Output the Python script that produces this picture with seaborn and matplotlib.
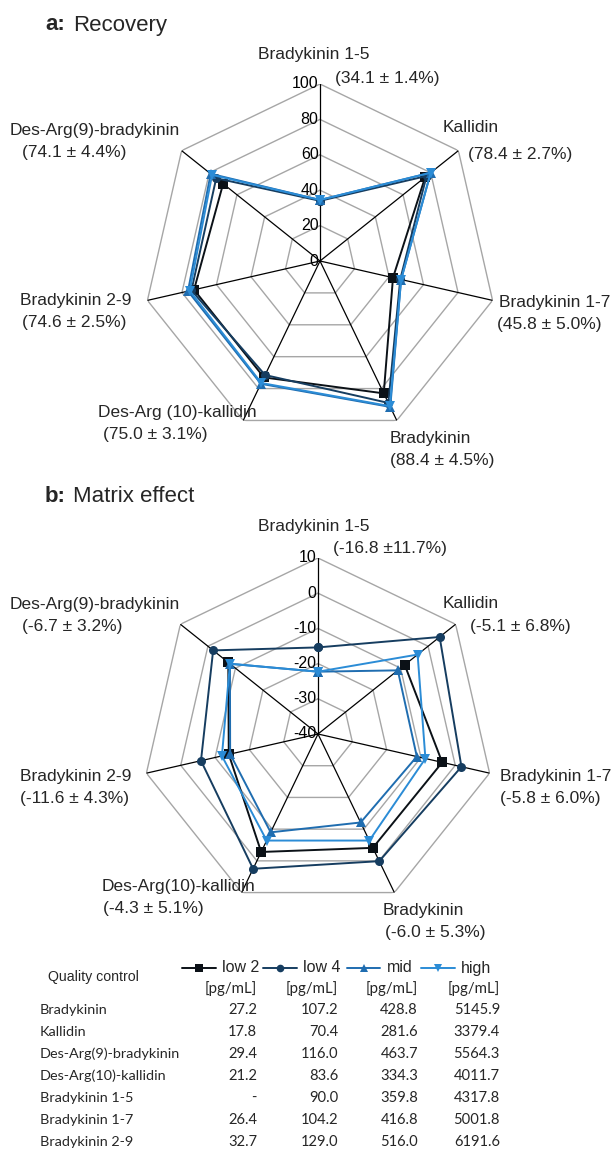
import numpy as np
import pandas as pd
import matplotlib
matplotlib.use("Agg")
import matplotlib.pyplot as plt
import seaborn as sns

# ---- data -------------------------------------------------------------
analytes = ["Bradykinin 1-5", "Kallidin", "Bradykinin 1-7", "Bradykinin",
            "Des-Arg(10)-kallidin", "Bradykinin 2-9", "Des-Arg(9)-bradykinin"]
levels = ["low 2", "low 4", "mid", "high"]

recovery_low2 = [np.nan, 76.0, 42.3, 83.0, 73.0, 73.0, 70.0]
recovery_low4 = [34.0, 77.0, 46.5, 89.0, 71.5, 74.5, 75.0]
recovery_mid = [34.5, 80.0, 47.0, 91.5, 77.0, 76.5, 79.0]
recovery_high = [34.5, 80.0, 47.0, 91.0, 76.5, 75.5, 78.0]

matrix_low2 = [np.nan, -8.5, -3.8, -4.1, -2.8, -14.0, -7.4]
matrix_low4 = [-15.4, 4.2, 1.8, 0.1, 2.5, -5.9, -1.9]
matrix_mid = [-22.3, -11.0, -11.2, -12.1, -9.0, -14.4, -8.0]
matrix_high = [-22.3, -3.8, -8.7, -6.4, -6.4, -12.0, -8.0]

recovery_summary = ["(34.1 ± 1.4%)", "(78.4 ± 2.7%)", "(45.8 ± 5.0%)", "(88.4 ± 4.5%)",
                    "(75.0 ± 3.1%)", "(74.6 ± 2.5%)", "(74.1 ± 4.4%)"]
matrix_summary = ["(-16.8 ±11.7%)", "(-5.1 ± 6.8%)", "(-5.8 ± 6.0%)", "(-6.0 ± 5.3%)",
                  "(-4.3 ± 5.1%)", "(-11.6 ± 4.3%)", "(-6.7 ± 3.2%)"]
recovery_names = ["Bradykinin 1-5", "Kallidin", "Bradykinin 1-7", "Bradykinin",
                  "Des-Arg (10)-kallidin", "Bradykinin 2-9", "Des-Arg(9)-bradykinin"]

recovery_ticks = [0, 20, 40, 60, 80, 100]
matrix_ticks = [-40, -30, -20, -10, 0, 10]

table_rows = ["Bradykinin", "Kallidin", "Des-Arg(9)-bradykinin", "Des-Arg(10)-kallidin",
              "Bradykinin 1-5", "Bradykinin 1-7", "Bradykinin 2-9"]
qc_low2 = ["27.2", "17.8", "29.4", "21.2", "-", "26.4", "32.7"]
qc_low4 = ["107.2", "70.4", "116.0", "83.6", "90.0", "104.2", "129.0"]
qc_mid = ["428.8", "281.6", "463.7", "334.3", "359.8", "416.8", "516.0"]
qc_high = ["5145.9", "3379.4", "5564.3", "4011.7", "4317.8", "5001.8", "6191.6"]

# ---- style ------------------------------------------------------------
sns.set_theme(style="white")
plt.rcParams["font.family"] = ["Liberation Sans", "DejaVu Sans"]

palette = {"low 2": "#0b1117", "low 4": "#163d60", "mid": "#1f6db0", "high": "#2b8cd6"}
marker_map = {"low 2": "s", "low 4": "o", "mid": "^", "high": "v"}
RING = "#a6a6a6"

W, H = 616, 1152
fig = plt.figure(figsize=(W / 100, H / 100), dpi=100)
fig.patch.set_facecolor("white")

theta = np.linspace(0, 2 * np.pi, len(analytes), endpoint=False)
theta_closed = np.append(theta, theta[0])


def long_frame(series):
    rows = []
    for lvl, vals in zip(levels, series):
        vals_closed = list(vals) + [vals[0]]
        for t, v in zip(theta_closed, vals_closed):
            rows.append({"theta": t, "value": v, "level": lvl})
    return pd.DataFrame(rows)


def radar(rect, series, rmin, rmax, rings, ticks):
    ax = fig.add_axes(rect, projection="polar")
    ax.set_theta_offset(np.pi / 2)
    ax.set_theta_direction(-1)
    ax.set_ylim(rmin, rmax)
    ax.grid(False)
    ax.set_xticks([])
    ax.set_yticks([])
    ax.spines["polar"].set_visible(False)
    ax.patch.set_alpha(0)
    # heptagonal rings
    for r in rings:
        ax.plot(theta_closed, [r] * len(theta_closed), color=RING, lw=1.0, zorder=1)
    # spokes
    for t in theta:
        ax.plot([t, t], [rmin, rmax], color="black", lw=0.9, zorder=2)
    # tick labels along the upper spoke
    for v in ticks:
        ax.annotate(str(v), xy=(0, v), xytext=(-1, 0), textcoords="offset points",
                    ha="right", va="center", fontsize=11.5, color="black", zorder=6)
    df = long_frame(series)
    sns.lineplot(data=df, x="theta", y="value", hue="level", style="level",
                 hue_order=levels, style_order=levels, palette=palette,
                 markers=marker_map, dashes=False, sort=False, estimator=None,
                 lw=1.4, markersize=6.5, markeredgewidth=0, legend=False,
                 ax=ax, zorder=4)
    ax.set_xlabel("")
    ax.set_ylabel("")
    return ax


radar([143 / W, (H - 261 - 177) / H, 354 / W, 354 / H],
      [recovery_low2, recovery_low4, recovery_mid, recovery_high],
      0, 100, [20, 40, 60, 80, 100], recovery_ticks)
radar([142 / W, (H - 734 - 176) / H, 352 / W, 352 / H],
      [matrix_low2, matrix_low4, matrix_mid, matrix_high],
      -40, 10, [-30, -20, -10, 0, 10], matrix_ticks)

# ---- overlay for titles, labels and the QC table (pixel coordinates) ---
ov = fig.add_axes([0, 0, 1, 1])
ov.set_xlim(0, W)
ov.set_ylim(H, 0)
ov.axis("off")
ov.patch.set_visible(False)

LFS = 12.5
ov.text(45, 25, "a:", fontsize=16, fontweight="bold", va="center", ha="left")
ov.text(73, 25, "Recovery", fontsize=16, va="center", ha="left")
ov.text(45, 497, "b:", fontsize=16, fontweight="bold", va="center", ha="left")
ov.text(73, 497, "Matrix effect", fontsize=16, va="center", ha="left")

# (name x, name y, summary x, summary y) for each analyte label
rec_pos = [(258, 55, 335, 78), (443, 128, 468, 154), (499, 303, 497, 325),
           (390, 438, 390, 460), (98, 413, 103, 435), (20, 300, 22, 322),
           (10, 130, 22, 153)]
mat_pos = [(258, 527, 333, 548), (443, 604, 470, 626), (500, 776, 500, 798),
           (383, 911, 385, 933), (102, 887, 103, 909), (20, 776, 20, 798),
           (10, 604, 22, 626)]
for name, summ, (nx, ny, sx, sy) in zip(recovery_names, recovery_summary, rec_pos):
    ov.text(nx, ny, name, fontsize=LFS, ha="left", va="center")
    ov.text(sx, sy, summ, fontsize=LFS, ha="left", va="center")
for name, summ, (nx, ny, sx, sy) in zip(analytes, matrix_summary, mat_pos):
    ov.text(nx, ny, name, fontsize=LFS, ha="left", va="center")
    ov.text(sx, sy, summ, fontsize=LFS, ha="left", va="center")

# QC table
TF = ["Lato", "DejaVu Sans"]
ov.text(48, 977, "Quality control", fontsize=10.2, ha="left", va="center")
handle_x = [(182, 216), (263, 297), (347, 380), (421, 455)]
label_x = [222, 303, 387, 461]
col_right = [257, 338, 418, 500]
for lvl, (x0, x1), lx, cr in zip(levels, handle_x, label_x, col_right):
    ov.plot([x0, x1], [968, 968], color=palette[lvl], lw=1.4)
    ov.plot([(x0 + x1) / 2], [968], marker=marker_map[lvl], color=palette[lvl],
            markersize=5.5, markeredgewidth=0)
    ov.text(lx, 968, lvl, fontsize=11.5, ha="left", va="center")
    ov.text(cr, 989, "[pg/mL]", fontsize=10.8, ha="right", va="center", family=TF)

for i, (name, a, b, c, d) in enumerate(zip(table_rows, qc_low2, qc_low4, qc_mid, qc_high)):
    y = 1010 + 22 * i
    ov.text(40, y, name, fontsize=10.4, ha="left", va="center", family=TF)
    for val, cr in zip((a, b, c, d), col_right):
        ov.text(cr, y, val, fontsize=10.6, ha="right", va="center", family=TF)

fig.savefig("out.png", dpi=100, facecolor="white")
